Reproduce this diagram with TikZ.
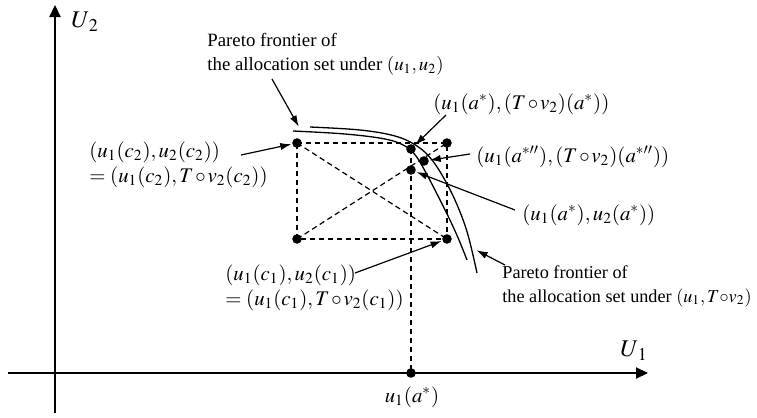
\documentclass[tikz,border=0pt]{standalone}
\usepackage{mathptmx}
\usepackage[no-math]{fontspec}
\setmainfont{Liberation Serif}
\usetikzlibrary{positioning,arrows.meta}
\newcommand{\Tv}{T\mkern1.5mu{\circ}\mkern1.5mu v}

\begin{document}
\begin{tikzpicture}[x=0.5pt,y=-0.5pt]
		% styles
		\tikzset{
			dot/.style={circle, fill, inner sep=0pt, minimum size=4.8pt},
			lbl/.style={inner sep=1pt, align=left, font=\fontsize{10.4}{12.5}\selectfont},
			txt/.style={inner sep=1pt, align=left, font=\fontsize{9.4}{12}\selectfont},
			guide/.style={dash pattern=on 2.7pt off 1.8pt, line width=0.6pt},
			pointer/.style={-{Latex[length=5.5pt,width=3.6pt]}, line width=0.6pt, shorten >=0.3pt},
			axis/.style={-{Triangle[length=6pt,width=5.6pt]}, line width=0.65pt},
			frontier/.style={line width=0.65pt}
		}
		\useasboundingbox (0,0) rectangle (757,418);

		% axes
		\coordinate (ybot) at (55,413);
		\coordinate (ytop) at (55,5);
		\coordinate (xleft) at (8,373);
		\coordinate (xright) at (648,373);
		\draw[axis] (ybot) -- (ytop);
		\draw[axis] (xleft) -- (xright);
		\node[font=\fontsize{12}{14}\selectfont] (U2) at (85,22) {$U_{\,2}$};
		\node[font=\fontsize{12}{14}\selectfont] (U1) at (634,351) {$U_{\,1}$};

		% points
		\node[dot] (c2) at (297,143) {};
		\node[dot] (q) at (447,143) {};
		\node[dot] (b) at (297,239) {};
		\node[dot] (c1) at (447,239) {};
		\node[dot] (aT) at (411,149) {};
		\node[dot] (app) at (424,161) {};
		\node[dot] (as) at (411,170) {};
		\node[dot] (base) at (411,373) {};
		\node[lbl] (baselbl) at (412,397) {$u_1(a^*)$};

		% dashed box, diagonals and drop line
		\draw[guide] (c2.center) -- (q.center) -- (c1.center) -- (b.center) -- cycle;
		\draw[guide] (c2.center) -- (c1.center);
		\draw[guide] (b.center) -- (q.center);
		\draw[guide] (aT.center) -- (base.center);

		% frontiers
		\draw[frontier] plot[smooth, tension=0.6] coordinates {(293,131) (345,134) (385,139) (405,146) (416,156) (425,171) (436,192) (449,218) (459,240) (467,260)};
		\draw[frontier] plot[smooth, tension=0.6] coordinates {(310,127) (360,130) (395,136) (417,146) (432,160) (446,182) (458,207) (468,235) (477,273)};
		\coordinate (innertop) at (299,127);
		\coordinate (outerlow) at (476,250);

		% labels
		\node[txt, anchor=west] (topnote) at (205,54) {Pareto frontier of\\the allocation set under $(u_1,u_2)$};
		\node[lbl, anchor=west] (c2note) at (87,165) {$(u_1(c_2),u_2(c_2))$\\$=(u_1(c_2),\Tv_2(c_2))$};
		\node[lbl, anchor=west] (c1note) at (223,288) {$(u_1(c_1),u_2(c_1))$\\$=(u_1(c_1),\Tv_2(c_1))$};
		\node[lbl, anchor=west] (aTnote) at (431,104) {$(u_1(a^*),(\Tv_2)(a^*))$};
		\node[lbl, anchor=west] (appnote) at (474,157) {$(u_1(a^{*\prime\prime}),(\Tv_2)(a^{*\prime\prime}))$};
		\node[lbl, anchor=west] (asnote) at (520,215) {$(u_1(a^*),u_2(a^*))$};
		\node[txt, anchor=west, font=\fontsize{9.1}{12}\selectfont] (outernote) at (500,286) {Pareto frontier of\\the allocation set under $(u_1,T{\circ}v_2)$};

		% pointers
		\coordinate (toptail) at (272,79);
		\coordinate (c2tail) at (241,155);
		\coordinate (c1tail) at (355,273);
		\coordinate (aTtail) at (446,115);
		\coordinate (apptail) at (470,154);
		\coordinate (astail) at (515,210);
		\coordinate (outertail) at (505,265);
		\draw[pointer] (toptail) -- (innertop);
		\draw[pointer] (c2tail) -- (c2);
		\draw[pointer] (c1tail) -- (c1);
		\draw[pointer] (aTtail) -- (aT);
		\draw[pointer] (apptail) -- (app);
		\draw[pointer] (astail) -- (as);
		\draw[pointer] (outertail) -- (outerlow);

\end{tikzpicture}
\end{document}
